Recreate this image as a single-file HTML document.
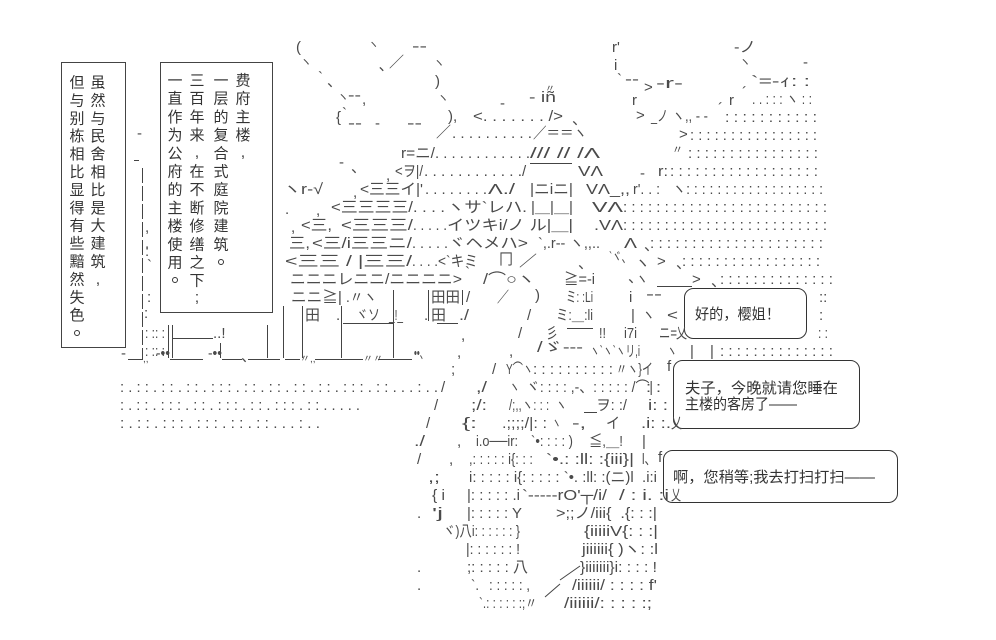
<!DOCTYPE html>
<html><head><meta charset="utf-8">
<style>
html,body{margin:0;padding:0;background:#fff;}
svg{display:block;}
text{white-space:pre;}
.a{font-family:"Liberation Sans","Noto Sans CJK JP",sans-serif;font-size:15px;fill:#4a4a4a;}
.c{font-family:"Liberation Sans","Noto Sans CJK SC",sans-serif;font-size:15px;fill:#333;}
</style></head><body>
<svg width="996" height="640" viewBox="0 0 996 640" xmlns="http://www.w3.org/2000/svg">
<rect width="996" height="640" fill="#fff"/>

<!-- text boxes -->
<g fill="none" stroke="#444" stroke-width="1">
<rect x="61.5" y="62.5" width="64" height="285"/>
<rect x="160.5" y="62.5" width="112" height="250"/>
</g>
<g class="c" text-anchor="middle">
<text x="77" y="87.5">但</text><text x="77" y="105.4">与</text><text x="77" y="123.3">别</text><text x="77" y="141.2">栋</text><text x="77" y="159.1">相</text><text x="77" y="177">比</text><text x="77" y="194.9">显</text><text x="77" y="212.8">得</text><text x="77" y="230.7">有</text><text x="77" y="248.6">些</text><text x="77" y="266.5">黯</text><text x="77" y="284.4">然</text><text x="77" y="302.3">失</text><text x="77" y="320.2">色</text>
<text x="98" y="87.5">虽</text><text x="98" y="105.4">然</text><text x="98" y="123.3">与</text><text x="98" y="141.2">民</text><text x="98" y="159.1">舍</text><text x="98" y="177">相</text><text x="98" y="194.9">比</text><text x="98" y="212.8">是</text><text x="98" y="230.7">大</text><text x="98" y="248.6">建</text><text x="98" y="266.5">筑</text><text x="98" y="284">,</text>
<text x="175" y="85.5">一</text><text x="175" y="103.7">直</text><text x="175" y="121.9">作</text><text x="175" y="140.1">为</text><text x="175" y="158.3">公</text><text x="175" y="176.5">府</text><text x="175" y="194.7">的</text><text x="175" y="212.9">主</text><text x="175" y="231.1">楼</text><text x="175" y="249.3">使</text><text x="175" y="267.5">用</text>
<text x="197" y="85.5">三</text><text x="197" y="103.7">百</text><text x="197" y="121.9">年</text><text x="197" y="140.1">来</text><text x="197" y="157">,</text><text x="197" y="176.5">在</text><text x="197" y="194.7">不</text><text x="197" y="212.9">断</text><text x="197" y="231.1">修</text><text x="197" y="249.3">缮</text><text x="197" y="267.5">之</text><text x="197" y="285.7">下</text><text x="197" y="302">;</text>
<text x="221" y="85.5">一</text><text x="221" y="103.7">层</text><text x="221" y="121.9">的</text><text x="221" y="140.1">复</text><text x="221" y="158.3">合</text><text x="221" y="176.5">式</text><text x="221" y="194.7">庭</text><text x="221" y="212.9">院</text><text x="221" y="231.1">建</text><text x="221" y="249.3">筑</text>
<text x="243" y="85.5">费</text><text x="243" y="103.7">府</text><text x="243" y="121.9">主</text><text x="243" y="140.1">楼</text><text x="243" y="157">,</text>
</g>
<g fill="none" stroke="#333" stroke-width="1">
<circle cx="77" cy="333" r="2.5"/>
<circle cx="175" cy="280" r="2.5"/>
<circle cx="221" cy="262" r="2.5"/>
</g>

<!-- line work -->
<g stroke="#444" stroke-width="1" fill="none">
<line x1="142.5" y1="168" x2="142.5" y2="360" stroke-dasharray="15 3"/>
<line x1="134" y1="160.5" x2="139" y2="160.5"/>
<line x1="168.5" y1="325" x2="168.5" y2="358"/>
<line x1="172.5" y1="325" x2="172.5" y2="358"/>
<line x1="173" y1="338.5" x2="213" y2="338.5"/>
<line x1="220.5" y1="343" x2="220.5" y2="358"/>
<line x1="267.5" y1="325" x2="267.5" y2="358"/>
<line x1="283.5" y1="306" x2="283.5" y2="358"/>
<line x1="302.5" y1="306" x2="302.5" y2="358"/>
<line x1="341.5" y1="306" x2="341.5" y2="358"/>
<line x1="393.5" y1="290" x2="393.5" y2="358"/>
<line x1="428.5" y1="290" x2="428.5" y2="321"/>
<line x1="462.5" y1="290" x2="462.5" y2="305"/>
<line x1="343" y1="323.5" x2="393" y2="323.5"/>
<line x1="437" y1="323.5" x2="458" y2="323.5"/>
<line x1="530" y1="163.5" x2="572" y2="163.5"/>
<line x1="657" y1="286.5" x2="692" y2="286.5"/>
<line x1="567" y1="328.5" x2="593" y2="328.5"/>
<line x1="584" y1="412.5" x2="597" y2="412.5"/>
<line x1="560" y1="580" x2="580" y2="566"/>
<line x1="545" y1="597" x2="560" y2="584"/>
<line x1="128" y1="359.5" x2="143" y2="359.5"/>
<line x1="170" y1="359.5" x2="203" y2="359.5"/>
<line x1="222" y1="359.5" x2="242" y2="359.5"/>
<line x1="248" y1="359.5" x2="280" y2="359.5"/>
<line x1="285" y1="359.5" x2="300" y2="359.5"/>
<line x1="315" y1="359.5" x2="363" y2="359.5"/>
<line x1="378" y1="359.5" x2="412" y2="359.5"/>
</g>

<!-- speech bubbles -->
<g fill="none" stroke="#333" stroke-width="1">
<rect x="684.5" y="288.5" width="122" height="50" rx="9"/>
<rect x="673.5" y="360.5" width="186" height="68" rx="9"/>
<rect x="663.5" y="450.5" width="234" height="52" rx="9"/>
</g>
<g class="c">
<text x="695" y="319" textLength="85" lengthAdjust="spacingAndGlyphs">好的，樱姐！</text>
<text x="685" y="393" textLength="153" lengthAdjust="spacingAndGlyphs">夫子，今晚就请您睡在</text>
<text x="685" y="409" textLength="112" lengthAdjust="spacingAndGlyphs">主楼的客房了——</text>
<text x="673" y="482" textLength="202" lengthAdjust="spacingAndGlyphs">啊，您稍等;我去打扫打扫——</text>
</g>

<g class="a">
<!-- left small column -->
<text x="137" y="138">‐</text>
<text x="145" y="232">,</text><text x="145" y="248">.</text><text x="145" y="256">:</text><text x="147" y="270">`</text><text x="147" y="302">:</text><text x="144" y="318">:</text>
<text x="145" y="338" textLength="20" lengthAdjust="spacingAndGlyphs">: :: :</text>
<text x="145" y="356" textLength="20" lengthAdjust="spacingAndGlyphs">: :: :</text>
<text x="213" y="338">..!</text>

<!-- cloud -->
<text x="296" y="52">(</text>
<text x="368" y="48" font-size="11">ヽ</text>
<text x="412" y="51" textLength="15" lengthAdjust="spacingAndGlyphs">‐‐</text>
<text x="300" y="66" font-size="12">ヽ</text>
<text x="379" y="70">､</text>
<text x="389" y="67">／</text>
<text x="433" y="67" font-size="12">ヽ</text>
<text x="318" y="82">`</text>
<text x="327" y="86">、</text>
<text x="435" y="86">)</text>
<text x="337" y="101" font-size="12">ヽ</text>
<text x="348" y="100" textLength="13" lengthAdjust="spacingAndGlyphs">‐‐</text>
<text x="362" y="104">,</text>
<text x="437" y="102" font-size="12">ヽ</text>
<text x="336" y="122">{</text>
<text x="342" y="118">`</text>
<text x="448" y="121">),</text>
<text x="348" y="128" textLength="14" lengthAdjust="spacingAndGlyphs">‐‐</text>
<text x="375" y="128">‐</text>
<text x="407" y="128" textLength="15" lengthAdjust="spacingAndGlyphs">‐‐</text>

<!-- roof top right -->
<text x="612" y="52">r'</text>
<text x="734" y="52" textLength="22" lengthAdjust="spacingAndGlyphs">‐ノ</text>
<text x="614" y="70">i</text>
<text x="739" y="66" font-size="12">ヽ</text>
<text x="803" y="67">‐</text>
<text x="617" y="84">`</text>
<text x="625" y="84" textLength="14" lengthAdjust="spacingAndGlyphs">‐‐</text>
<text x="644" y="92">&gt;</text>
<text x="656" y="88" textLength="27" lengthAdjust="spacingAndGlyphs">‐r‐</text>
<text x="751" y="86" textLength="59" lengthAdjust="spacingAndGlyphs">`=‐ｨ: :</text>
<text x="500" y="108">‐</text>
<text x="545" y="92" font-size="10">〃</text>
<text x="529" y="102" textLength="27" lengthAdjust="spacingAndGlyphs">‐ iñ</text>
<text x="632" y="105">r</text>
<text x="729" y="105">r</text>
<text x="742" y="97">´</text>
<text x="752" y="104" textLength="60" lengthAdjust="spacingAndGlyphs">. . : : : ヽ : :</text>

<!-- row 4 -->
<text x="473" y="121" textLength="90" lengthAdjust="spacingAndGlyphs">&lt;. . . . . . . /&gt;</text>
<text x="572" y="124">、</text>
<text x="636" y="120">&gt;</text>
<text x="651" y="121" textLength="17" lengthAdjust="spacingAndGlyphs">_ノ</text>
<text x="672" y="121" textLength="36" lengthAdjust="spacingAndGlyphs">ヽ,, ‐ ‐</text>
<text x="718" y="113">´</text>
<text x="725" y="122" textLength="92" lengthAdjust="spacingAndGlyphs">: : : : : : : : : : :</text>

<!-- row 5 -->
<text x="436" y="137">／</text>
<text x="452" y="138" textLength="80" lengthAdjust="spacingAndGlyphs">. . . . . . . . . .</text>
<text x="533" y="138" textLength="54" lengthAdjust="spacingAndGlyphs">／＝＝ヽ</text>
<text x="679" y="139">&gt;</text>
<text x="690" y="140" textLength="127" lengthAdjust="spacingAndGlyphs">: : : : : : : : : : : : : : : :</text>

<!-- row 6 -->
<text x="401" y="158" textLength="34" lengthAdjust="spacingAndGlyphs">r=ニ/</text>
<text x="435" y="158" textLength="95" lengthAdjust="spacingAndGlyphs">. . . . . . . . . . . .</text>
<text x="530" y="158" textLength="70" lengthAdjust="spacingAndGlyphs">/// // /Λ</text>
<text x="672" y="153" font-size="11">〃</text>
<text x="688" y="158" textLength="130" lengthAdjust="spacingAndGlyphs">: : : : : : : : : : : : : : : :</text>

<!-- row 7 -->
<text x="339" y="167">‐</text>
<text x="351" y="172">、</text>
<text x="386" y="180">,</text>
<text x="395" y="176" textLength="28" lengthAdjust="spacingAndGlyphs">&lt;ヲ|/</text>
<text x="424" y="176" textLength="98" lengthAdjust="spacingAndGlyphs">. . . . . . . . . . . .</text>
<text x="522" y="176">/</text>
<text x="578" y="176" textLength="25" lengthAdjust="spacingAndGlyphs">VΛ</text>
<text x="640" y="178">‐</text>
<text x="658" y="176" textLength="10" lengthAdjust="spacingAndGlyphs">r:</text>
<text x="670" y="176" textLength="148" lengthAdjust="spacingAndGlyphs">: : : : : : : : : : : : : : : : : :</text>

<!-- row 8 -->
<text x="283" y="194" textLength="40" lengthAdjust="spacingAndGlyphs">ヽr‐√</text>
<text x="353" y="197">,</text>
<text x="360" y="194" textLength="63" lengthAdjust="spacingAndGlyphs">&lt;三三イ|'</text>
<text x="425" y="194" textLength="62" lengthAdjust="spacingAndGlyphs">. . . . . . . .</text>
<text x="488" y="194" textLength="27" lengthAdjust="spacingAndGlyphs">Λ./</text>
<text x="530" y="194" textLength="43" lengthAdjust="spacingAndGlyphs">|ニiニ|</text>
<text x="586" y="194" textLength="44" lengthAdjust="spacingAndGlyphs">VΛ_,,</text>
<text x="633" y="194" textLength="27" lengthAdjust="spacingAndGlyphs">r'. . :</text>
<text x="672" y="194" textLength="151" lengthAdjust="spacingAndGlyphs">ヽ: : : : : : : : : : : : : : : : : :</text>

<!-- row 9 -->
<text x="285" y="214">.</text>
<text x="316" y="215">,</text>
<text x="331" y="212" textLength="82" lengthAdjust="spacingAndGlyphs">&lt;三三三三/</text>
<text x="413" y="212" textLength="32" lengthAdjust="spacingAndGlyphs">. . . .</text>
<text x="447" y="212" textLength="80" lengthAdjust="spacingAndGlyphs">ヽサ`レハ.</text>
<text x="531" y="212" textLength="42" lengthAdjust="spacingAndGlyphs">|＿|＿|</text>
<text x="592" y="212" textLength="31" lengthAdjust="spacingAndGlyphs">VΛ</text>
<text x="623" y="212" textLength="204" lengthAdjust="spacingAndGlyphs">: : : : : : : : : : : : : : : : : : : : : : : : :</text>

<!-- row 10 -->
<text x="291" y="232">,</text>
<text x="301" y="230" textLength="31" lengthAdjust="spacingAndGlyphs">&lt;三,</text>
<text x="341" y="230" textLength="72" lengthAdjust="spacingAndGlyphs">&lt;三三三/</text>
<text x="413" y="230" textLength="34" lengthAdjust="spacingAndGlyphs">. . . . .</text>
<text x="447" y="230" textLength="126" lengthAdjust="spacingAndGlyphs">イツキi/ノ ル|＿|</text>
<text x="594" y="230" textLength="29" lengthAdjust="spacingAndGlyphs">.VΛ</text>
<text x="623" y="230" textLength="204" lengthAdjust="spacingAndGlyphs">: : : : : : : : : : : : : : : : : : : : : : : : :</text>

<!-- row 11 -->
<text x="289" y="248" textLength="21" lengthAdjust="spacingAndGlyphs">三,</text>
<text x="312" y="248" textLength="100" lengthAdjust="spacingAndGlyphs">&lt;三/i三三ニ/</text>
<text x="412" y="248" textLength="36" lengthAdjust="spacingAndGlyphs">. . . . .</text>
<text x="448" y="248" textLength="80" lengthAdjust="spacingAndGlyphs">ヾヘメハ&gt;</text>
<text x="538" y="248" textLength="62" lengthAdjust="spacingAndGlyphs">`,.r‐‐ ヽ,,..</text>
<text x="624" y="248" textLength="13" lengthAdjust="spacingAndGlyphs">Λ</text>
<text x="644" y="250">、</text>
<text x="650" y="248" textLength="173" lengthAdjust="spacingAndGlyphs">: : : : : : : : : : : : : : : : : : : : :</text>

<!-- row 12 -->
<text x="285" y="266" textLength="127" lengthAdjust="spacingAndGlyphs">&lt;三三 / |三三/</text>
<text x="412" y="266" textLength="26" lengthAdjust="spacingAndGlyphs">. . . .</text>
<text x="438" y="266" textLength="40" lengthAdjust="spacingAndGlyphs">&lt;`キミ</text>
<text x="499" y="264" textLength="14" lengthAdjust="spacingAndGlyphs">冂</text>
<text x="519" y="266" textLength="18" lengthAdjust="spacingAndGlyphs">／</text>
<text x="578" y="268">、</text>
<text x="609" y="262" textLength="22" lengthAdjust="spacingAndGlyphs">`ヾ、</text>
<text x="635" y="268">ヽ</text>
<text x="657" y="266">&gt;</text>
<text x="676" y="268">、</text>
<text x="682" y="266" textLength="138" lengthAdjust="spacingAndGlyphs">: : : : : : : : : : : : : : : : :</text>

<!-- row 13 -->
<text x="290" y="284" textLength="172" lengthAdjust="spacingAndGlyphs">ニニニレニニ/ニニニニ&gt;</text>
<text x="465" y="277">`</text>
<text x="483" y="284" textLength="52" lengthAdjust="spacingAndGlyphs">/⌒○ヽ</text>
<text x="564" y="284" textLength="31" lengthAdjust="spacingAndGlyphs">≧=‐i</text>
<text x="628" y="282">、</text>
<text x="636" y="284" textLength="12" lengthAdjust="spacingAndGlyphs">ヽ</text>
<text x="692" y="284">&gt;</text>
<text x="711" y="286">、</text>
<text x="720" y="284" textLength="113" lengthAdjust="spacingAndGlyphs">: : : : : : : : : : : : : :</text>

<!-- row 14 -->
<text x="291" y="302" textLength="51" lengthAdjust="spacingAndGlyphs">ニニ≧|</text>
<text x="346" y="302" textLength="31" lengthAdjust="spacingAndGlyphs">.〃ヽ</text>
<text x="431" y="302" textLength="29" lengthAdjust="spacingAndGlyphs">田田</text>
<text x="466" y="302">/</text>
<text x="497" y="302" textLength="12" lengthAdjust="spacingAndGlyphs">／</text>
<text x="535" y="300">)</text>
<text x="566" y="302" textLength="27" lengthAdjust="spacingAndGlyphs">ミ: :Li</text>
<text x="629" y="302">i</text>
<text x="646" y="299" textLength="16" lengthAdjust="spacingAndGlyphs">‐‐</text>
<text x="819" y="302">::</text>

<!-- row 15 -->
<text x="305" y="320" textLength="15" lengthAdjust="spacingAndGlyphs">田</text>
<text x="336" y="320">.</text>
<text x="356" y="320" textLength="24" lengthAdjust="spacingAndGlyphs">ヾソ</text>
<text x="389" y="320" textLength="14" lengthAdjust="spacingAndGlyphs">_!_</text>
<text x="424" y="320">.</text>
<text x="431" y="320" textLength="15" lengthAdjust="spacingAndGlyphs">田</text>
<text x="459" y="320" textLength="10" lengthAdjust="spacingAndGlyphs">./</text>
<text x="527" y="320">/</text>
<text x="556" y="320" textLength="37" lengthAdjust="spacingAndGlyphs">ミ:＿:li</text>
<text x="631" y="320">|</text>
<text x="642" y="320" textLength="13" lengthAdjust="spacingAndGlyphs">ヽ</text>
<text x="667" y="320" textLength="11" lengthAdjust="spacingAndGlyphs">&lt;</text>
<text x="819" y="320">:</text>

<!-- row 16 -->
<text x="461" y="340">,</text>
<text x="518" y="338">/</text>
<text x="546" y="338" textLength="12" lengthAdjust="spacingAndGlyphs">彡</text>
<text x="599" y="338" textLength="7" lengthAdjust="spacingAndGlyphs">!!</text>
<text x="624" y="338" textLength="13" lengthAdjust="spacingAndGlyphs">i7i</text>
<text x="659" y="338" textLength="18" lengthAdjust="spacingAndGlyphs">ニ=</text>
<text x="676" y="338" textLength="11" lengthAdjust="spacingAndGlyphs">乂</text>
<text x="818" y="338" textLength="10" lengthAdjust="spacingAndGlyphs">: :</text>

<!-- row 17 ground & figure -->
<text x="121" y="358">‐</text>
<text x="143" y="362" font-size="10">,,</text>
<text x="156" y="358" textLength="14" lengthAdjust="spacingAndGlyphs">‐••</text>
<text x="208" y="358" textLength="14" lengthAdjust="spacingAndGlyphs">‐••</text>
<text x="241" y="361">、</text>
<text x="300" y="362" font-size="10">〃,,</text>
<text x="363" y="362" font-size="10">〃〃</text>
<text x="414" y="358" textLength="14" lengthAdjust="spacingAndGlyphs">••、</text>
<text x="457" y="357">,</text>
<text x="509" y="356">,</text>
<text x="537" y="352" textLength="46" lengthAdjust="spacingAndGlyphs">/ゞ‐‐‐</text>
<text x="590" y="356" textLength="50" lengthAdjust="spacingAndGlyphs">ヽ`ヽ`ヽリ,i</text>
<text x="667" y="356" textLength="10" lengthAdjust="spacingAndGlyphs">ヽ</text>
<text x="690" y="356">|</text>
<text x="710" y="356">|</text>
<text x="720" y="356" textLength="113" lengthAdjust="spacingAndGlyphs">: : : : : : : : : : : : : :</text>

<!-- row 18 -->
<text x="451" y="374">;</text>
<text x="492" y="374">/</text>
<text x="506" y="374" textLength="27" lengthAdjust="spacingAndGlyphs">Y⌒ヽ</text>
<text x="533" y="374" textLength="80" lengthAdjust="spacingAndGlyphs">: : : : : : : : : :</text>
<text x="616" y="374" textLength="37" lengthAdjust="spacingAndGlyphs">〃ヽ}イ</text>
<text x="667" y="371">f</text>

<!-- row 19 -->
<text x="120" y="392" textLength="318" lengthAdjust="spacingAndGlyphs">: . : : . : : . : : . : : : . : : . : : . : : . : : . : : : . : : . . . : . .</text>
<text x="441" y="392">/</text>
<text x="476" y="392" textLength="11" lengthAdjust="spacingAndGlyphs">,/</text>
<text x="509" y="392" textLength="11" lengthAdjust="spacingAndGlyphs">ヽ</text>
<text x="526" y="392" textLength="127" lengthAdjust="spacingAndGlyphs">ヾ: : : : ,‐、: : : : : /⌒|</text>
<text x="646" y="392" textLength="15" lengthAdjust="spacingAndGlyphs">: :</text>

<!-- row 20 -->
<text x="120" y="410" textLength="240" lengthAdjust="spacingAndGlyphs">: . : : . : : : . : : . : : : . : : . : : : . : : . . . . .</text>
<text x="434" y="410">/</text>
<text x="471" y="410" textLength="16" lengthAdjust="spacingAndGlyphs">;/:</text>
<text x="509" y="410" textLength="58" lengthAdjust="spacingAndGlyphs">/;,,ヽ: : :  ヽ</text>
<text x="596" y="410" textLength="31" lengthAdjust="spacingAndGlyphs">ヲ: :/</text>
<text x="648" y="410" textLength="20" lengthAdjust="spacingAndGlyphs">i: :</text>

<!-- row 21 -->
<text x="120" y="428" textLength="200" lengthAdjust="spacingAndGlyphs">: . : : . : : : . : : : . : : . : : . . . : . .</text>
<text x="426" y="428">/</text>
<text x="462" y="428" textLength="15" lengthAdjust="spacingAndGlyphs">{:</text>
<text x="502" y="428" textLength="45" lengthAdjust="spacingAndGlyphs">.;;;;/|: :</text>
<text x="552" y="428" textLength="9" lengthAdjust="spacingAndGlyphs">ヽ</text>
<text x="572" y="428" textLength="14" lengthAdjust="spacingAndGlyphs">‐,</text>
<text x="606" y="428" textLength="14" lengthAdjust="spacingAndGlyphs">イ</text>
<text x="641" y="428" textLength="30" lengthAdjust="spacingAndGlyphs">.i: :.</text>
<text x="671" y="428" textLength="11" lengthAdjust="spacingAndGlyphs">乂</text>

<!-- row 22 -->
<text x="414" y="446" textLength="11" lengthAdjust="spacingAndGlyphs">./</text>
<text x="457" y="446">,</text>
<text x="476" y="446" textLength="42" lengthAdjust="spacingAndGlyphs">i.o──ir:</text>
<text x="531" y="446" textLength="42" lengthAdjust="spacingAndGlyphs">`•: : : : )</text>
<text x="589" y="446" textLength="34" lengthAdjust="spacingAndGlyphs">≦,＿!</text>
<text x="642" y="446">|</text>

<!-- row 23 -->
<text x="417" y="464">/</text>
<text x="449" y="464">,</text>
<text x="469" y="464" textLength="64" lengthAdjust="spacingAndGlyphs">,: : : : : i{: : :</text>
<text x="546" y="464" textLength="88" lengthAdjust="spacingAndGlyphs">`•.: :ll: :{iii}|</text>
<text x="642" y="464" textLength="14" lengthAdjust="spacingAndGlyphs">l、</text>
<text x="658" y="462">f</text>

<!-- row 24 -->
<text x="428" y="482" textLength="12" lengthAdjust="spacingAndGlyphs">,;</text>
<text x="469" y="482" textLength="188" lengthAdjust="spacingAndGlyphs">i: : : : : i{: : : : : `•. :ll: :(ニ)l  .i:i</text>

<!-- row 25 -->
<text x="432" y="500" textLength="13" lengthAdjust="spacingAndGlyphs">{ i</text>
<text x="467" y="500" textLength="53" lengthAdjust="spacingAndGlyphs">|: : : : : .i</text>
<text x="522" y="500" textLength="85" lengthAdjust="spacingAndGlyphs">`‐‐‐‐‐rO'┬/i/</text>
<text x="619" y="500" textLength="50" lengthAdjust="spacingAndGlyphs">/ : i. :i</text>
<text x="671" y="500" textLength="10" lengthAdjust="spacingAndGlyphs">乂</text>

<!-- row 26 -->
<text x="417" y="518">.</text>
<text x="432" y="518" textLength="11" lengthAdjust="spacingAndGlyphs">'j</text>
<text x="467" y="518" textLength="55" lengthAdjust="spacingAndGlyphs">|: : : : : Y</text>
<text x="556" y="518" textLength="101" lengthAdjust="spacingAndGlyphs">&gt;;;ノ/iii{  .{: : :|</text>

<!-- row 27 -->
<text x="443" y="536" textLength="77" lengthAdjust="spacingAndGlyphs">ヾ)八i: : : : : : }</text>
<text x="584" y="536" textLength="74" lengthAdjust="spacingAndGlyphs">{iiiiiV{: : :|</text>

<!-- row 28 -->
<text x="466" y="554" textLength="54" lengthAdjust="spacingAndGlyphs">|: : : : : : !</text>
<text x="582" y="554" textLength="76" lengthAdjust="spacingAndGlyphs">jiiiiii{ )ヽ: :l</text>

<!-- row 29 -->
<text x="417" y="572">.</text>
<text x="467" y="572" textLength="61" lengthAdjust="spacingAndGlyphs">;: : : : : 八</text>
<text x="580" y="572" textLength="77" lengthAdjust="spacingAndGlyphs">}iiiiiii}i: : : : !</text>

<!-- row 30 -->
<text x="417" y="590">.</text>
<text x="471" y="590" textLength="8" lengthAdjust="spacingAndGlyphs">`.</text>
<text x="489" y="590" textLength="41" lengthAdjust="spacingAndGlyphs">: : : : : ,</text>
<text x="572" y="590" textLength="85" lengthAdjust="spacingAndGlyphs">/iiiiii/ : : : : f'</text>

<!-- row 31 -->
<text x="479" y="608" textLength="58" lengthAdjust="spacingAndGlyphs">`.: : : : : :;〃</text>
<text x="564" y="608" textLength="88" lengthAdjust="spacingAndGlyphs">/iiiiii/: : : : :;</text>
</g>
</svg>
</body></html>
